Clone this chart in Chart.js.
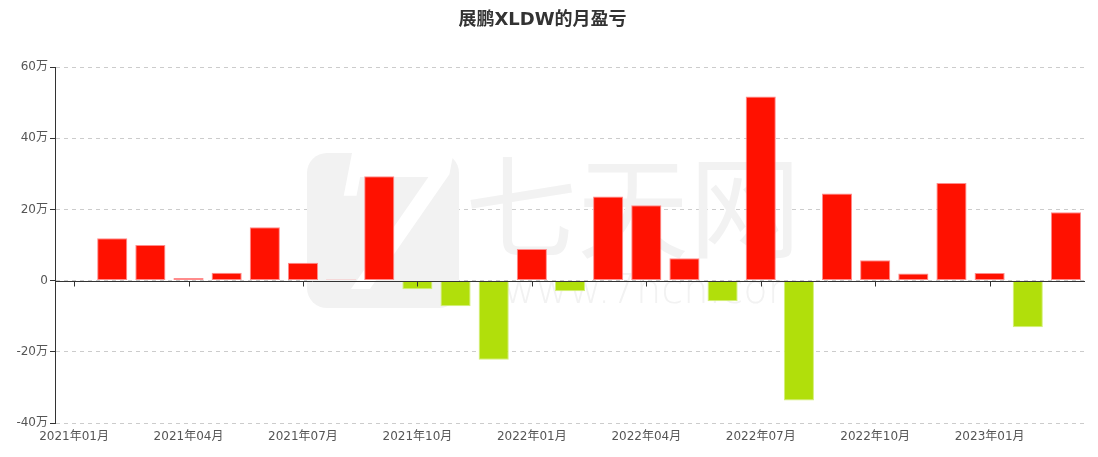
<!DOCTYPE html>
<html>
<head>
<meta charset="utf-8">
<script src="https://cdn.jsdelivr.net/npm/chart.js@4/dist/chart.umd.min.js"></script>
<style>
    html, body { margin: 0; padding: 0; background: #fff; }
    #wrap { width: 1098px; height: 457px; position: relative; }
</style>
</head>
<body>
<div id="wrap"><canvas id="pnlChart"></canvas></div>
<script>
const months = [
    '2021年01月', '2021年02月', '2021年03月', '2021年04月', '2021年05月', '2021年06月',
    '2021年07月', '2021年08月', '2021年09月', '2021年10月', '2021年11月', '2021年12月',
    '2022年01月', '2022年02月', '2022年03月', '2022年04月', '2022年05月', '2022年06月',
    '2022年07月', '2022年08月', '2022年09月', '2022年10月', '2022年11月', '2022年12月',
    '2023年01月', '2023年02月', '2023年03月'
];
// 月盈亏，单位：万
const profit = [
    null, 11.9, 10.0, 0.75, 2.2, 15.0,
    5.0, 0.3, 29.3, -2.4, -7.2, -22.2,
    8.85, -3.0, 23.6, 21.2, 6.3, -5.8,
    51.7, -33.7, 24.5, 5.7, 2.0, 27.4,
    2.1, -13.1, 19.2
];
const yTicks = [-40, -20, 0, 20, 40, 60];

const colors = {
    up: '#ff1100',
    upEdge: '#ff8c8c',
    down: '#b1df0b',
    downEdge: '#d4ef7a',
    axis: '#333333',
    grid: '#cccccc',
    text: '#555555',
    mark: '#f2f2f2'
};

const FONT = '"DejaVu Sans", "Noto Sans CJK SC", sans-serif';

// 水印
const watermark = {
    id: 'watermark',
    beforeDatasetsDraw(chart) {
        const ctx = chart.ctx;
        ctx.save();
        ctx.fillStyle = colors.mark;
        ctx.beginPath();
        ctx.roundRect(307, 153, 152, 155, 20);
        ctx.fill();
        ctx.fillStyle = '#ffffff';
        ctx.textAlign = 'center';
        ctx.textBaseline = 'middle';
        ctx.font = 'italic bold 190px "DejaVu Serif", serif';
        ctx.fillText('7', 390, 240);
        ctx.fillStyle = colors.mark;
        ctx.font = '112px "Noto Sans CJK SC", sans-serif';
        ctx.fillText('七天网', 633, 207);
        ctx.font = '200 40px "DejaVu Sans", sans-serif';
        ctx.fillText('www.7hcn.com', 655, 293);
        ctx.restore();
    }
};

// 零轴线和下方刻度
const zeroAxis = {
    id: 'zeroAxis',
    afterDatasetsDraw(chart) {
        const { ctx, chartArea, scales } = chart;
        const y0 = Math.round(scales.y.getPixelForValue(0)) + 0.5;
        ctx.save();
        ctx.strokeStyle = colors.axis;
        ctx.lineWidth = 1;
        ctx.beginPath();
        ctx.moveTo(chartArea.left, y0);
        ctx.lineTo(chartArea.right, y0);
        months.forEach((m, i) => {
            if (i % 3 !== 0) return;
            const x = Math.round(scales.x.getPixelForValue(i)) + 0.5;
            ctx.moveTo(x, y0);
            ctx.lineTo(x, y0 + 5);
        });
        ctx.stroke();
        ctx.restore();
    }
};

new Chart(document.getElementById('pnlChart'), {
    type: 'bar',
    data: {
        labels: months,
        datasets: [{
            label: '月盈亏',
            data: profit,
            backgroundColor: profit.map(v => v < 0 ? colors.down : colors.up),
            borderColor: profit.map(v => v < 0 ? colors.downEdge : colors.upEdge),
            borderWidth: 1,
            borderSkipped: false,
            barPercentage: 0.79,
            categoryPercentage: 1
        }]
    },
    options: {
        responsive: true,
        maintainAspectRatio: false,
        animation: false,
        layout: { padding: { left: 0, right: 13, top: 0, bottom: 0 } },
        plugins: {
            legend: { display: false },
            tooltip: { enabled: false },
            title: {
                display: true,
                text: '展鹏XLDW的月盈亏',
                color: '#333333',
                font: { family: FONT, size: 18, weight: 'bold' },
                padding: { top: 10, bottom: 35.4 }
            }
        },
        scales: {
            x: {
                grid: { display: false, drawTicks: false },
                border: { display: false },
                afterFit: scale => { scale.height = 34; },
                ticks: {
                    color: colors.text,
                    font: { family: FONT, size: 12 },
                    autoSkip: false,
                    maxRotation: 0,
                    padding: 7,
                    callback: (v, i) => i % 3 === 0 ? months[i] : ''
                }
            },
            y: {
                min: -40,
                max: 60,
                afterBuildTicks: scale => { scale.ticks = yTicks.map(v => ({ value: v })); },
                afterFit: scale => { scale.width = 55; },
                grid: {
                    color: colors.grid,
                    tickColor: colors.axis,
                    tickLength: 5,
                    tickBorderDash: [],
                    drawOnChartArea: true
                },
                border: { display: true, color: colors.axis, dash: [4, 4] },
                ticks: {
                    color: colors.text,
                    font: { family: FONT, size: 12 },
                    padding: 2,
                    callback: v => v === 0 ? '0' : v + '万'
                }
            }
        }
    },
    plugins: [watermark, zeroAxis]
});
</script>
</body>
</html>
